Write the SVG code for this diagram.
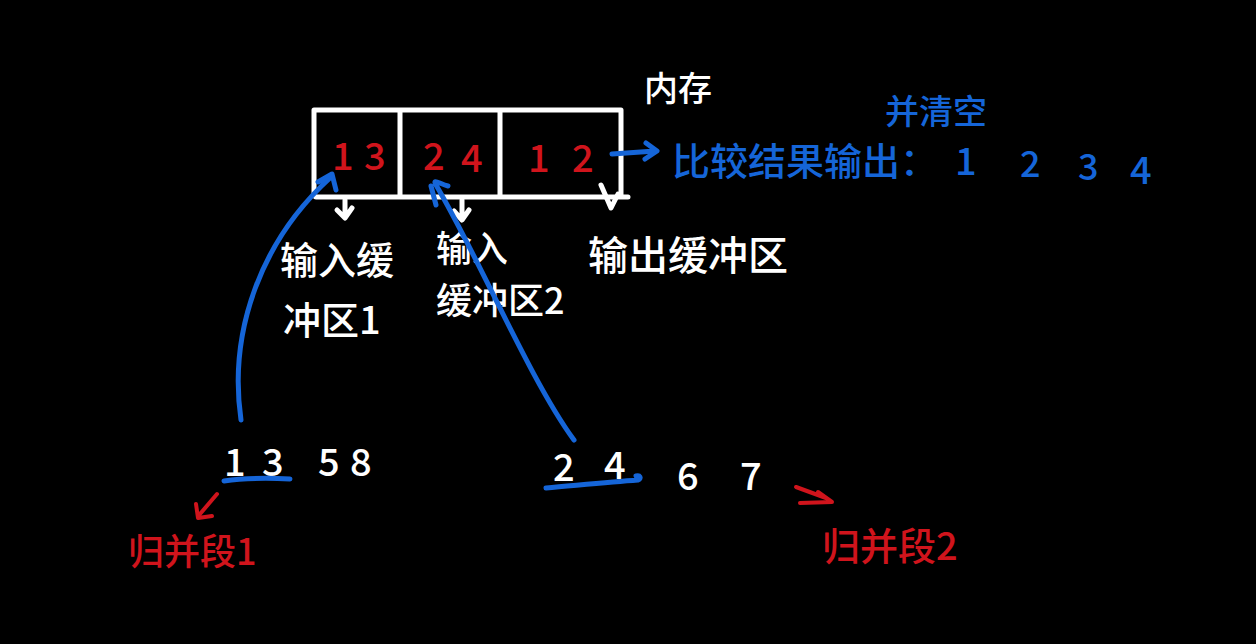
<svg xmlns="http://www.w3.org/2000/svg" width="1256" height="644" viewBox="0 0 1256 644">
<defs>
<style>
.w{fill:#fff}.r{fill:#d0141c}.b{fill:#1565d8}
text{font-family:"Noto Sans CJK SC","Liberation Sans",sans-serif;font-weight:500}
.ws{stroke:#fff;stroke-width:5;fill:none;stroke-linecap:round;stroke-linejoin:round}
.bs{stroke:#1565d8;stroke-width:5;fill:none;stroke-linecap:round;stroke-linejoin:round}
.rs{stroke:#d0141c;stroke-width:4;fill:none;stroke-linecap:round;stroke-linejoin:round}
.d{font-size:38px}
</style>
</defs>
<rect width="1256" height="644" fill="#000"/>
<g id="memory">
<path class="ws" d="M314 110 L621 110 L621 197 M314 110 L314 196 M316 197 L628 197 M400 112 L400 197 M500 112 L500 197"/>
<text class="w" x="644" y="101" font-size="34">内存</text>
</g>
<g id="cells">
<text class="r d" x="332" y="170">1</text><text class="r d" x="364" y="170">3</text>
<text class="r d" x="423" y="170">2</text><text class="r d" x="461" y="172">4</text>
<text class="r d" x="528" y="172">1</text><text class="r d" x="572" y="172">2</text>
</g>
<g id="buf1"><text class="w" x="280" y="274" font-size="38">输入缓</text><text class="w" x="283" y="334" font-size="38">冲区1</text></g>
<g id="buf2"><text class="w" x="436" y="262" font-size="36">输入</text><text class="w" x="436" y="314" font-size="36">缓冲区2</text></g>
<g id="outbuf"><text class="w" x="588" y="270" font-size="40">输出缓冲区</text></g>
<g id="result">
<text class="b" x="672" y="175" font-size="38">比较结果输出：</text>
<text class="b" x="955" y="175" font-size="38">1</text>
<text class="b" x="1020" y="177" font-size="36">2</text>
<text class="b" x="1078" y="180" font-size="36">3</text>
<text class="b" x="1130" y="184" font-size="38">4</text>
<text class="b" x="885" y="124" font-size="34">并清空</text>
</g>
<g id="run1">
<text class="w d" x="224" y="476">1</text><text class="w d" x="262" y="476">3</text>
<text class="w d" x="318" y="476">5</text><text class="w d" x="350" y="476">8</text>
<text class="r" x="128" y="565" font-size="36">归并段1</text>
</g>
<g id="run2">
<text class="w d" x="553" y="481">2</text><text class="w d" x="604" y="479">4</text>
<text class="w d" x="677" y="490">6</text>
<text class="w d" x="740" y="490">7</text>
<text class="r" x="822" y="560" font-size="38">归并段2</text>
</g>
<g id="connectors">
<path class="ws" d="M345 200 L345 216 M337 210 L345 218 L352 208"/>
<path class="ws" d="M462 200 L462 219 M454 211 L462 220 L469 210"/>
<path class="ws" d="M601 185 L611 208 L618 194"/>
<path class="bs" d="M612 154 L655 151 M646 143 L657 151 L645 159"/>
<path class="bs" d="M241 420 C228 330 262 240 330 178 M318 182 L332 174 L336 190"/>
<path class="bs" d="M574 440 C530 380 480 260 436 185 C432 178 440 184 448 186 M431 186 L436 205"/>
<path class="bs" d="M224 481 C245 478 270 478 290 479"/>
<path class="bs" d="M546 488 C580 485 610 482 638 480 C642 478 640 475 636 476"/>
<path class="rs" d="M217 494 L200 514 M196 504 L198 518 L212 516"/>
<path class="rs" d="M796 487 L826 498 M800 503 L832 502 L818 492"/>
</g>
</svg>
